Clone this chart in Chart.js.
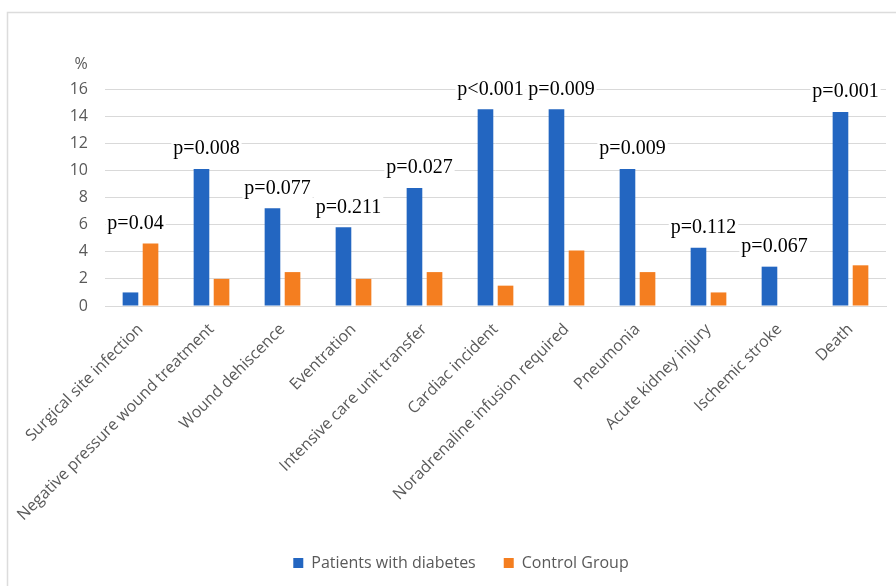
<!DOCTYPE html>
<html><head><meta charset="utf-8">
<script src="https://cdn.jsdelivr.net/npm/chart.js@4.4.0/dist/chart.umd.min.js"></script>
<style>html,body{margin:0;padding:0;background:#fff}#wrap{width:896px;height:586px;position:relative}</style>
</head><body><div id="wrap"><canvas id="c" width="896" height="586"></canvas></div>
<script>
const categories = ['Surgical site infection','Negative pressure wound treatment','Wound dehiscence','Eventration','Intensive care unit transfer','Cardiac incident','Noradrenaline infusion required','Pneumonia','Acute kidney injury','Ischemic stroke','Death'];
const diabetes = [1.0, 10.1, 7.2, 5.8, 8.7, 14.5, 14.5, 10.1, 4.3, 2.9, 14.3];
const control = [4.6, 2.0, 2.5, 2.0, 2.5, 1.5, 4.1, 2.5, 1.0, 0, 3.0];
const pValues = ['p=0.04','p=0.008','p=0.077','p=0.211','p=0.027','p<0.001','p=0.009','p=0.009','p=0.112','p=0.067','p=0.001'];
const seriesNames = ['Patients with diabetes','Control Group'];
const yAxisUnit = '%';

const GRAY = '#595959';
const FONT = "'Open Sans', sans-serif";

const framePlugin = {
  id: 'frame',
  beforeDraw(chart) {
    const ctx = chart.ctx;
    ctx.save();
    ctx.fillStyle = '#fff';
    ctx.fillRect(0, 0, chart.width, chart.height);
    ctx.strokeStyle = '#dcdcdc';
    ctx.lineWidth = 1.5;
    ctx.beginPath();
    ctx.moveTo(896, 12.5); ctx.lineTo(7.5, 12.5); ctx.lineTo(7.5, 586);
    ctx.stroke();
    ctx.restore();
  },
  afterLayout(chart) {
    if (chart.legend) { chart.legend.left += 18; chart.legend.right += 18; }
  }
};

function labelPos(chart, i) {
  const m0 = chart.getDatasetMeta(0).data[i];
  const m1 = chart.getDatasetMeta(1).data[i];
  const x = (m0.x + m1.x) / 2 - 5;
  const top = Math.min(m0.y, m1.y);
  return {x, y: top - 20};
}

const pPlugin = {
  id: 'pvals',
  beforeDatasetsDraw(chart) {
    const ctx = chart.ctx;
    ctx.save();
    ctx.font = "20px 'Liberation Serif', 'Times New Roman', serif";
    ctx.fillStyle = '#fff';
    pValues.forEach((t, i) => {
      const p = labelPos(chart, i);
      const w = ctx.measureText(t).width;
      ctx.fillRect(p.x - w / 2 - 2, p.y - 11, w + 4, 22);
    });
    ctx.restore();
  },
  afterDatasetsDraw(chart) {
    const ctx = chart.ctx;
    ctx.save();
    ctx.font = "20px 'Liberation Serif', 'Times New Roman', serif";
    ctx.fillStyle = '#000';
    ctx.textAlign = 'center';
    ctx.textBaseline = 'middle';
    pValues.forEach((t, i) => {
      const p = labelPos(chart, i);
      ctx.fillText(t, p.x, p.y);
    });
    const ys = chart.scales.y;
    ctx.font = "16px " + FONT;
    ctx.fillStyle = GRAY;
    ctx.fillText(yAxisUnit, 81, ys.getPixelForValue(16) - 25);
    ctx.restore();
  }
};

new Chart(document.getElementById('c'), {
  type: 'bar',
  data: {
    labels: categories,
    datasets: [
      {label: seriesNames[0], data: diabetes, backgroundColor: '#2366C1', barPercentage: 0.78, categoryPercentage: 0.565},
      {label: seriesNames[1], data: control, backgroundColor: '#F47E20', barPercentage: 0.78, categoryPercentage: 0.565}
    ]
  },
  options: {
    responsive: false,
    animation: false,
    layout: {padding: {top: 89, right: 10, left: 0, bottom: 5}},
    plugins: {
      legend: {
        position: 'bottom',
        labels: {boxWidth: 10, boxHeight: 10, padding: 28, color: GRAY, font: {family: FONT, size: 16}}
      },
      tooltip: {enabled: false}
    },
    scales: {
      x: {
        grid: {display: false},
        border: {display: true, color: '#d9d9d9'},
        ticks: {color: GRAY, font: {family: FONT, size: 16}, minRotation: 45, maxRotation: 45, autoSkip: false, padding: 6},
        afterFit(s) { s.height = 221; }
      },
      y: {
        min: 0, max: 16,
        ticks: {stepSize: 2, color: GRAY, font: {family: FONT, size: 16}, padding: 17},
        grid: {color: '#d9d9d9', drawTicks: false},
        border: {display: false},
        afterFit(s) { s.width = 105; }
      }
    }
  },
  plugins: [framePlugin, pPlugin]
});
</script></body></html>
